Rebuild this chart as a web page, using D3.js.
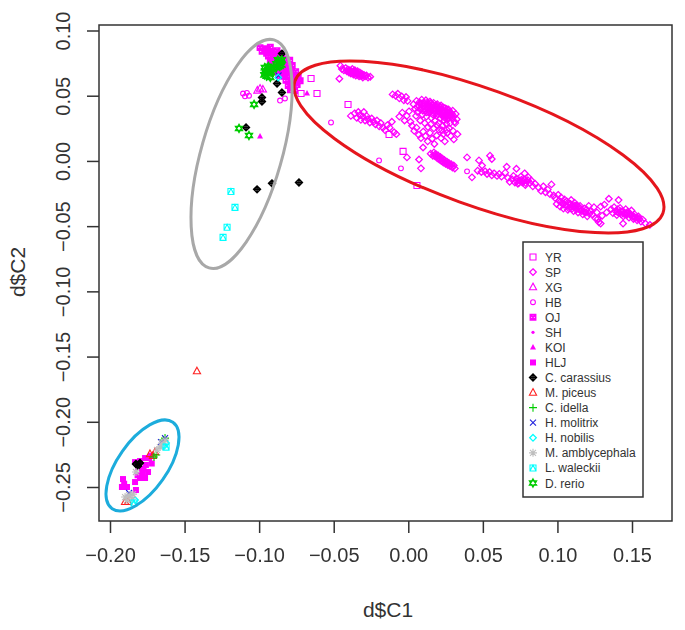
<!DOCTYPE html>
<html>
<head>
<meta charset="utf-8">
<script src="https://cdn.jsdelivr.net/npm/d3@7"></script>
<style>
  html, body { margin: 0; padding: 0; background: #fff; }
  text { font-family: "Liberation Sans", Arial, sans-serif; fill: #333; }
</style>
</head>
<body>
<svg id="chart" width="685" height="630"></svg>
<script>
// ===== Data: values (d$C1, d$C2) =====
const xTicks = [-0.20, -0.15, -0.10, -0.05, 0.00, 0.05, 0.10, 0.15];
const yTicks = [-0.25, -0.20, -0.15, -0.10, -0.05, 0.00, 0.05, 0.10];

const yr = [[-.0652,.0632],[-.0719,.0517],[-.0612,.0517],[-.0404,.0433],[-.0035,.0073],[-.0129,.0203],[.0058,-.0188]];

const sp = [
  // upper left cloud
  [-.0445,.0705],[-.0432,.0695],[-.0420,.0712],[-.0412,.0688],[-.0405,.0702],[-.0398,.0678],[-.0392,.0695],[-.0385,.0670],
  [-.0380,.0688],[-.0375,.0705],[-.0368,.0662],[-.0362,.0680],[-.0358,.0695],[-.0352,.0655],[-.0346,.0672],[-.0340,.0688],
  [-.0335,.0660],[-.0330,.0648],[-.0325,.0678],[-.0318,.0652],[-.0312,.0668],[-.0305,.0640],[-.0298,.0660],[-.0290,.0648],
  [-.0280,.0655],[-.0270,.0640],[-.0255,.0645],[-.0462,.0630],[-.0455,.0730],
  [-.0402,.0690],[-.0388,.0682],[-.0372,.0675],[-.0365,.0690],[-.0350,.0668],[-.0338,.0675],[-.0322,.0662],[-.0308,.0655],
  // streak below it
  [-.0385,.0345],[-.0360,.0365],[-.0345,.0330],[-.0335,.0375],[-.0325,.0350],[-.0318,.0315],[-.0305,.0340],[-.0298,.0375],
  [-.0290,.0310],[-.0280,.0345],[-.0270,.0320],[-.0258,.0295],[-.0245,.0325],[-.0232,.0300],[-.0220,.0280],[-.0210,.0310],
  [-.0195,.0265],[-.0185,.0290],[-.0170,.0255],[-.0155,.0235],[-.0140,.0275],[-.0125,.0255],[-.0110,.0300],[-.0095,.0220],[-.0080,.0205],
  // big cloud, sparse edge
  [-.0105,.0510],[-.0085,.0500],[-.0070,.0515],[-.0060,.0480],[-.0045,.0495],[-.0030,.0465],[-.0015,.0490],[-.0005,.0460],
  [-.0060,.0340],[-.0040,.0370],[-.0025,.0310],[-.0010,.0345],[.0005,.0380],[.0015,.0300],[.0025,.0270],[.0040,.0230],
  [.0055,.0255],[.0070,.0200],[.0085,.0175],[.0100,.0225],[.0115,.0190],[.0130,.0150],[.0145,.0215],[.0160,.0170],
  [.0175,.0130],[.0190,.0195],[.0205,.0240],[.0220,.0175],[.0235,.0205],[.0245,.0150],[.0260,.0215],[.0275,.0250],[.0285,.0190],
  [.0300,.0230],[.0315,.0290],[.0330,.0205],[.0305,.0165],
  // big cloud, dense core
  [.0035,.0435],[.0045,.0400],[.0055,.0460],[.0060,.0375],[.0070,.0425],[.0075,.0450],[.0082,.0395],[.0090,.0470],
  [.0095,.0355],[.0100,.0420],[.0105,.0445],[.0112,.0385],[.0118,.0465],[.0122,.0340],[.0128,.0410],[.0135,.0435],
  [.0140,.0370],[.0145,.0455],[.0150,.0395],[.0155,.0330],[.0160,.0425],[.0165,.0355],[.0170,.0445],[.0175,.0385],
  [.0180,.0310],[.0185,.0415],[.0190,.0345],[.0195,.0435],[.0200,.0375],[.0205,.0290],[.0210,.0400],[.0215,.0325],
  [.0220,.0425],[.0225,.0360],[.0230,.0270],[.0235,.0385],[.0240,.0310],[.0245,.0405],[.0250,.0345],[.0255,.0285],
  [.0260,.0375],[.0265,.0320],[.0270,.0395],[.0275,.0350],[.0280,.0290],[.0285,.0365],[.0292,.0330],[.0298,.0385],
  [.0305,.0340],[.0310,.0300],[.0318,.0360],[.0325,.0320],[.0052,.0345],[.0080,.0310],[.0110,.0290],[.0132,.0260],
  [.0150,.0280],[.0172,.0250],[.0195,.0270],[.0225,.0235],[.0258,.0240],
  [.0062,.0412],[.0078,.0438],[.0088,.0410],[.0098,.0385],[.0108,.0402],[.0116,.0428],[.0124,.0372],[.0132,.0395],
  [.0142,.0418],[.0148,.0378],[.0156,.0408],[.0163,.0390],[.0168,.0428],[.0178,.0402],[.0182,.0365],[.0188,.0392],
  [.0194,.0412],[.0198,.0358],[.0206,.0382],[.0212,.0418],[.0218,.0368],[.0222,.0395],[.0228,.0345],[.0232,.0412],
  [.0238,.0365],[.0243,.0332],[.0248,.0382],[.0253,.0360],[.0258,.0398],[.0262,.0345],[.0268,.0370],[.0272,.0335],
  [.0278,.0378],[.0282,.0352],[.0288,.0342],[.0295,.0358],[.0128,.0448],[.0152,.0442],[.0092,.0440],[.0186,.0430],
  // small cloud right under it
  [.0150,.0055],[.0165,.0040],[.0172,.0065],[.0180,.0035],[.0188,.0050],[.0195,.0020],[.0200,.0042],[.0208,.0010],
  [.0215,.0030],[.0222,-.0002],[.0228,.0018],[.0235,-.0012],[.0242,.0008],[.0250,-.0022],[.0258,-.0005],[.0265,-.0032],
  [.0272,-.0015],[.0280,-.0040],[.0288,-.0025],[.0296,-.0050],[.0305,-.0035],[.0312,-.0058],
  [.0178,.0048],[.0192,.0032],[.0212,.0018],[.0226,.0005],[.0246,-.0008],[.0262,-.0018],[.0276,-.0028],
  // lone ones
  [-.0009,.0027],[.0072,.0011],[.0085,-.0057],[.0099,.0103],[.0394,.0027],[.0427,-.0126],[.0474,.0004],
  [.0548,.0040],[.0560,.0015],[.0495,-.0035],[.0660,-.0045],[.0725,-.0060],[.0780,-.0095],
  // tail
  [.0465,-.0075],[.0490,-.0085],[.0515,-.0080],[.0528,-.0100],[.0545,-.0085],[.0560,-.0110],[.0575,-.0095],[.0595,-.0115],
  [.0610,-.0100],[.0625,-.0120],[.0650,-.0090],[.0668,-.0130],[.0680,-.0160],[.0695,-.0140],[.0705,-.0115],[.0715,-.0165],
  [.0725,-.0135],[.0735,-.0175],[.0745,-.0150],[.0755,-.0120],[.0765,-.0165],[.0775,-.0140],[.0785,-.0185],[.0795,-.0155],
  [.0805,-.0125],[.0815,-.0170],[.0825,-.0150],[.0835,-.0195],[.0850,-.0175],[.0875,-.0205],[.0890,-.0230],[.0905,-.0195],
  [.0920,-.0240],[.0935,-.0220],[.0950,-.0255],[.0960,-.0180],[.0975,-.0265],
  [.0728,-.0155],[.0742,-.0168],[.0758,-.0145],[.0772,-.0158],[.0788,-.0170],[.0802,-.0148],
  // second dense run
  [.0985,-.0285],[.0995,-.0330],[.1005,-.0260],[.1010,-.0305],[.1018,-.0350],[.1025,-.0280],[.1032,-.0320],[.1040,-.0365],
  [.1048,-.0295],[.1055,-.0340],[.1062,-.0310],[.1070,-.0375],[.1078,-.0325],[.1085,-.0355],[.1092,-.0300],[.1100,-.0340],
  [.1108,-.0385],[.1115,-.0320],[.1122,-.0360],[.1130,-.0340],[.1138,-.0395],[.1145,-.0370],[.1152,-.0345],[.1160,-.0385],
  [.1170,-.0410],[.1180,-.0365],[.1190,-.0395],[.1200,-.0425],[.1210,-.0345],[.1220,-.0385],[.1232,-.0410],[.1245,-.0355],
  [.1255,-.0440],[.1265,-.0395],[.1278,-.0470],[.1290,-.0350],[.1300,-.0420],[.1315,-.0335],[.1330,-.0395],[.1345,-.0290],
  [.1290,-.0480],[.1270,-.0445],
  [.1022,-.0312],[.1038,-.0335],[.1052,-.0318],[.1065,-.0345],[.1075,-.0362],[.1088,-.0330],[.1098,-.0368],[.1105,-.0352],
  [.1118,-.0342],[.1128,-.0372],[.1142,-.0352],[.1156,-.0368],[.1175,-.0388],[.1195,-.0372],[.1215,-.0405],
  // end of the tail
  [.1360,-.0370],[.1372,-.0400],[.1380,-.0355],[.1390,-.0385],[.1398,-.0415],[.1405,-.0370],[.1412,-.0395],[.1420,-.0360],
  [.1428,-.0410],[.1435,-.0385],[.1442,-.0425],[.1450,-.0395],[.1458,-.0370],[.1465,-.0415],[.1472,-.0390],[.1480,-.0435],
  [.1488,-.0405],[.1496,-.0380],[.1503,-.0425],[.1510,-.0445],[.1518,-.0410],[.1526,-.0435],[.1534,-.0455],[.1542,-.0425],
  [.1550,-.0445],[.1560,-.0465],[.1572,-.0450],[.1590,-.0480],[.1620,-.0490],[.1410,-.0300],[.1440,-.0480],
  [.1402,-.0392],[.1425,-.0385],[.1448,-.0408],[.1468,-.0402],[.1492,-.0418],[.1515,-.0428],[.1538,-.0440]
];

const xg = [[-.0994,.0555],[-.0975,.0548],[-.1012,.0540]];
const hb = [[-.1108,.0517],[-.1082,.0522],[-.1068,.0500],[-.1095,.0495],[-.0860,.0463],[-.0827,.0479],
  [-.0518,.0295],[-.0196,.0004],[-.0049,-.0057],[.0394,-.0080]];

// tight magenta blob at the top of the grey ellipse
const oj = [[-.0994,.0869],[-.0961,.0860],[-.0925,.0872],[-.0980,.0840],[-.0945,.0852],[-.0912,.0838],[-.0880,.0846],
  [-.0938,.0805],[-.0905,.0812],[-.0872,.0800],[-.0835,.0808],[-.0925,.0775],[-.0890,.0770],[-.0855,.0778],[-.0822,.0765],
  [-.0795,.0772],[-.0905,.0735],[-.0872,.0728],[-.0838,.0738],[-.0805,.0725],[-.0778,.0732],[-.0882,.0692],[-.0848,.0698],
  [-.0815,.0688],[-.0785,.0695],[-.0755,.0685],[-.0870,.0655],[-.0835,.0648],[-.0802,.0660],[-.0770,.0650],[-.0738,.0655],
  [-.0820,.0618],[-.0788,.0610],[-.0755,.0622],[-.0725,.0615],[-.0805,.0578],[-.0772,.0570],[-.0745,.0585],[-.0790,.0545],[-.0762,.0540],
  [-.0950,.0825],[-.0895,.0790],[-.0855,.0755],[-.0820,.0712],[-.0790,.0675],[-.0765,.0630],[-.0785,.0590],[-.0860,.0825],[-.0910,.0755],[-.0830,.0670]];

const sh = [[-.0905,.0790],[-.0840,.0665]];
const koi = [[-.0994,.0188],[-.0679,.0517]];
const hlj = [[-.1913,-.2439],[-.1920,-.2500],[-.1886,-.2500],[-.1832,-.2462],[-.1799,-.2431],[-.1765,-.2431],[-.1785,-.2385],
  [-.1745,-.2385],[-.1759,-.2331],[-.1738,-.2278],[-.1765,-.2278],[-.1799,-.2301],[-.1832,-.2309],[-.1826,-.2523],[-.1775,-.2360],
  [-.1812,-.2345],[-.1720,-.2320],[-.1725,-.2260],[-.1905,-.2475],[-.1815,-.2410]];

const carassius = [[-.0847,.0823],[-.0880,.0593],[-.0847,.0524],[-.0981,.0486],[-.0981,.0456],[-.1088,.0257],[-.1014,-.0218],
  [-.0914,-.0172],[-.0733,-.0165],[-.1826,-.2324],[-.1799,-.2316],[-.1812,-.2339]];
const piceus = [[-.1417,-.1612],[-.1899,-.2614],[-.1879,-.2614],[-.1732,-.2247],[-.1698,-.2232],[-.1712,-.2262]];
const idella = [[-.1644,-.2140],[-.1631,-.2125],[-.1705,-.2270],[-.1690,-.2255]];
const molitrix = [[-.1658,-.2156],[-.1631,-.2125],[-.1872,-.2546],[-.0870,.0655]];
const nobilis = [[-.1624,-.2163],[-.1638,-.2186],[-.1832,-.2600],[-.0872,.0640]];
const amblycephala = [[-.1899,-.2577],[-.1872,-.2562],[-.1852,-.2592],[-.1886,-.2600],[-.1846,-.2555],[-.1651,-.2163],[-.1665,-.2194],
  [-.1631,-.2140],[-.1685,-.2216],[-.1826,-.2385]];
const waleckii = [[-.1189,-.0234],[-.1162,-.0356],[-.1215,-.0509],[-.1242,-.0586],[-.1624,-.2194],[-.1839,-.2623]];
const rerio = [[-.1135,.0249],[-.1068,.0195],[-.1034,.0433],[-.0960,.0690],[-.0935,.0705],[-.0945,.0670],[-.0920,.0680],
  [-.0950,.0650],[-.0925,.0640],[-.0938,.0725],[-.0915,.0700],[-.0962,.0715],[-.0965,.0660],[-.0938,.0688],
  [-.0885,.0745],[-.0860,.0765],[-.0850,.0735],[-.0875,.0775],[-.0868,.0750],[-.0848,.0775],[-.0885,.0715],[-.0862,.0725]];

const legendLabels = ['YR','SP','XG','HB','OJ','SH','KOI','HLJ','C. carassius','M. piceus','C. idella',
  'H. molitrix','H. nobilis','M. amblycephala','L. waleckii','D. rerio'];
const seriesPoints = [yr, sp, xg, hb, oj, sh, koi, hlj, carassius, piceus, idella, molitrix, nobilis, amblycephala, waleckii, rerio];
const seriesPch = [0, 5, 2, 1, 7, 20, 17, 15, 9, 2, 3, 4, 5, 8, 14, 11];
const seriesColors = ['#ff00ff','#ff00ff','#ff00ff','#ff00ff','#ff00ff','#ff00ff','#ff00ff','#ff00ff',
  '#000000','#ff2020','#00cc00','#2222dd','#00ffff','#bebebe','#00ffff','#00cc00'];

// centre in data units, semi-axes and tilt in pixels/degrees
const ellipseCentres = [[0.0474, 0.0107], [-0.1118, 0.0054], [-0.1782, -0.2335]];
const ellipseColors = ['#e5141c', '#a8a8a8', '#1cacdc'];
const ellipseShape = [[195.5, 58.3, 19.8], [118.5, 40.3, -74.1], [52.8, 24.7, -54.9]];

// ===== Layout =====
const box = { left: 99, right: 672, top: 25, bottom: 521 };
const x = d3.scaleLinear().domain([-0.20, 0.15]).range([110, 632]);
const y = d3.scaleLinear().domain([-0.25, 0.10]).range([487, 30.5]);
const inkColor = '#333';

const svg = d3.select('#chart');

// slight softening, the source is a rescaled bitmap
svg.append('defs').append('filter').attr('id', 'soft')
    .append('feGaussianBlur').attr('stdDeviation', 0.45);

// ===== Symbols, named after R's pch numbers =====
const pchPath = {
    0:  'M-3,-3H3V3H-3Z',
    1:  'M-2.4,0A2.4,2.4 0 1,1 2.4,0A2.4,2.4 0 1,1 -2.4,0Z',
    2:  'M0,-4L3.6,2.6H-3.6Z',
    3:  'M-4,0H4M0,-4V4',
    4:  'M-3,-3L3,3M-3,3L3,-3',
    5:  'M0,-3.3L3.3,0L0,3.3L-3.3,0Z',
    7:  'M-2.6,-2.6H2.6V2.6H-2.6ZM-2.6,-2.6L2.6,2.6M-2.6,2.6L2.6,-2.6',
    8:  'M-4,0H4M0,-4V4M-3,-3L3,3M-3,3L3,-3',
    9:  'M0,-3.4L3.4,0L0,3.4L-3.4,0ZM-3.4,0H3.4M0,-3.4V3.4',
    11: 'M0,-4L3.5,2.1H-3.5ZM0,4L3.5,-2.1H-3.5Z',
    14: 'M-3,-3H3V3H-3ZM-3,3L0,-3L3,3',
    15: 'M-3,-3H3V3H-3Z',
    17: 'M0,-3.4L3,2H-3Z',
    20: 'M-1.6,0A1.6,1.6 0 1,1 1.6,0A1.6,1.6 0 1,1 -1.6,0Z'
};
const filledPch = [15, 17, 20];
const pchStroke = { 5: 1.25, 7: 1.7, 9: 1.5, 11: 1.4 };

function drawSymbol(sel, pch, color) {
    const filled = filledPch.includes(pch);
    sel.attr('d', pchPath[pch])
        .attr('fill', filled ? color : 'none')
        .attr('stroke', filled ? 'none' : color)
        .attr('stroke-width', pchStroke[pch] || 1.1);
}

// ===== Points =====
const marks = svg.append('g').attr('filter', 'url(#soft)');

seriesPoints.forEach((pts, i) => {
    marks.append('g').attr('class', 'series')
        .selectAll('path')
        .data(pts)
        .join('path')
        .attr('transform', d => `translate(${x(d[0])},${y(d[1])})`)
        .call(drawSymbol, seriesPch[i], seriesColors[i]);
});

// ===== Hand drawn ellipses =====
marks.append('g').selectAll('ellipse')
    .data(ellipseCentres)
    .join('ellipse')
    .attr('rx', (d, i) => ellipseShape[i][0])
    .attr('ry', (d, i) => ellipseShape[i][1])
    .attr('transform', (d, i) => `translate(${x(d[0])},${y(d[1])}) rotate(${ellipseShape[i][2]})`)
    .attr('fill', 'none')
    .attr('stroke', (d, i) => ellipseColors[i])
    .attr('stroke-width', 3);

// ===== Frame and axes =====
svg.append('rect')
    .attr('x', box.left).attr('y', box.top)
    .attr('width', box.right - box.left).attr('height', box.bottom - box.top)
    .attr('fill', 'none').attr('stroke', inkColor).attr('stroke-width', 1.5);

const xAxis = svg.append('g')
    .attr('transform', `translate(0,${box.bottom})`)
    .call(d3.axisBottom(x).tickValues(xTicks).tickSize(12).tickPadding(15).tickFormat(d3.format('.2f')));
const yAxis = svg.append('g')
    .attr('transform', `translate(${box.left},0)`)
    .call(d3.axisLeft(y).tickValues(yTicks).tickSize(12).tickFormat(d3.format('.2f')));

[xAxis, yAxis].forEach(a => {
    a.select('.domain').remove();
    a.selectAll('line').attr('stroke', inkColor).attr('stroke-width', 1.5);
    a.selectAll('text').style('font-size', '20px').style('font-family', '"Liberation Sans", Arial, sans-serif').attr('fill', inkColor);
});

// R draws the y labels rotated
yAxis.selectAll('.tick text')
    .attr('x', null).attr('dy', null)
    .attr('text-anchor', 'middle')
    .attr('transform', 'translate(-29,0) rotate(-90)');

svg.append('text').attr('x', 388).attr('y', 617)
    .attr('text-anchor', 'middle').style('font-size', '21px').text('d$C1');
svg.append('text').attr('transform', 'translate(25,272) rotate(-90)')
    .attr('text-anchor', 'middle').style('font-size', '21px').text('d$C2');

// ===== Legend =====
const legend = svg.append('g');
legend.append('rect')
    .attr('x', 523).attr('y', 242).attr('width', 120).attr('height', 255)
    .attr('fill', '#fff').attr('stroke', inkColor).attr('stroke-width', 1.5);

const legendRow = d3.scalePoint().domain(legendLabels).range([257, 483]);

legendLabels.forEach((label, i) => {
    legend.append('path')
        .attr('transform', `translate(533,${legendRow(label)})`)
        .call(drawSymbol, seriesPch[i], seriesColors[i]);
    legend.append('text')
        .attr('x', 545).attr('y', legendRow(label) + 4.5)
        .style('font-size', '12px')
        .text(label);
});
</script>
</body>
</html>
